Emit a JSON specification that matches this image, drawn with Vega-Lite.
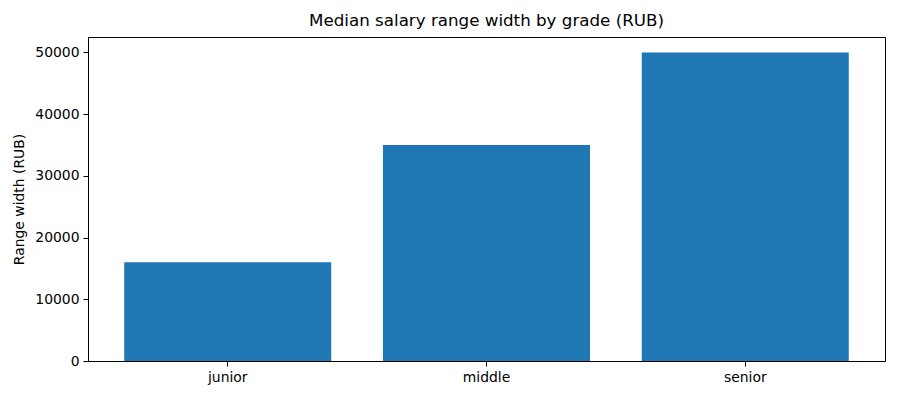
{
  "$schema": "https://vega.github.io/schema/vega-lite/v6.json",
  "autosize": "none",
  "width": 797,
  "height": 324,
  "padding": {"left": 88, "top": 37, "right": 15, "bottom": 39},
  "background": "white",
  "title": {
    "text": "Median salary range width by grade (RUB)",
    "font": "DejaVu Sans",
    "fontSize": 16.7,
    "fontWeight": "normal",
    "color": "black",
    "offset": 7
  },
  "data": {
    "values": [
      {"grade": "junior", "width": 16000},
      {"grade": "middle", "width": 35000},
      {"grade": "senior", "width": 50000}
    ]
  },
  "mark": {"type": "bar", "color": "#1f77b4"},
  "encoding": {
    "x": {
      "field": "grade",
      "type": "nominal",
      "sort": null,
      "title": null,
      "scale": {"paddingInner": 0.2, "paddingOuter": 0.14},
      "axis": {"labelAngle": 0}
    },
    "y": {
      "field": "width",
      "type": "quantitative",
      "title": "Range width (RUB)",
      "scale": {"domain": [0, 52500], "nice": false},
      "axis": {"values": [0, 10000, 20000, 30000, 40000, 50000], "format": "d"}
    }
  },
  "config": {
    "view": {"stroke": "black", "strokeWidth": 1},
    "axis": {
      "grid": false,
      "domainColor": "black",
      "tickColor": "black",
      "tickSize": 5,
      "labelPadding": 4,
      "labelFont": "DejaVu Sans",
      "labelFontSize": 13.9,
      "labelColor": "black",
      "titleFont": "DejaVu Sans",
      "titleFontSize": 13.9,
      "titleFontWeight": "normal",
      "titleColor": "black",
      "titlePadding": 8
    }
  }
}
